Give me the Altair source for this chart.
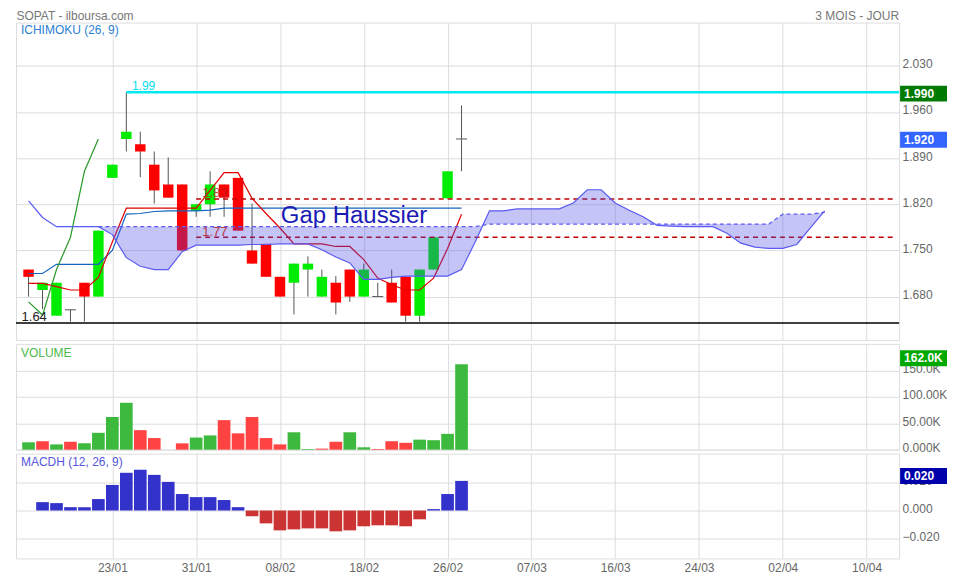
import altair as alt
import pandas as pd

# ---------------- data ----------------
idx = list(range(32))
opens = [1.721, 1.690, 1.651, 1.660, 1.701, 1.680, 1.860, 1.919, 1.911, 1.880,
         1.850, 1.850, 1.810, 1.820, 1.850, 1.860, 1.750, 1.760, 1.710, 1.701,
         1.721, 1.680, 1.701, 1.721, 1.680, 1.680, 1.701, 1.710, 1.651, 1.721,
         1.829, 1.919]
highs = [1.721, 1.701, 1.701, 1.660, 1.701, 1.780, 1.880, 1.990, 1.930, 1.900,
         1.891, 1.850, 1.820, 1.870, 1.850, 1.860, 1.821, 1.760, 1.710, 1.730,
         1.741, 1.721, 1.711, 1.721, 1.730, 1.701, 1.721, 1.710, 1.721, 1.770,
         1.870, 1.970]
lows = [1.680, 1.661, 1.651, 1.642, 1.642, 1.680, 1.860, 1.900, 1.861, 1.821,
        1.830, 1.750, 1.801, 1.801, 1.801, 1.780, 1.730, 1.710, 1.680, 1.653,
        1.680, 1.680, 1.653, 1.672, 1.680, 1.680, 1.671, 1.642, 1.642, 1.721,
        1.829, 1.870]
closes = [1.710, 1.701, 1.701, 1.660, 1.680, 1.780, 1.880, 1.930, 1.900, 1.841,
          1.830, 1.750, 1.820, 1.850, 1.830, 1.780, 1.730, 1.710, 1.680, 1.730,
          1.730, 1.710, 1.671, 1.680, 1.721, 1.680, 1.671, 1.651, 1.721, 1.770,
          1.870, 1.919]
tenkan = [1.700, 1.700, 1.695, 1.690, 1.690, 1.709, 1.763, 1.814, 1.814, 1.814,
          1.814, 1.814, 1.814, 1.841, 1.868, 1.868, 1.829, 1.806, 1.784, 1.760,
          1.760, 1.760, 1.756, 1.756, 1.736, 1.708, 1.698, 1.690, 1.690, 1.708,
          1.753, 1.805]
kijun = [1.715, 1.715, 1.729, 1.729, 1.729, 1.729, 1.750, 1.805, 1.806, 1.809,
         1.810, 1.810, 1.810, 1.811, 1.814, 1.814, 1.814, 1.814, 1.814, 1.814,
         1.814, 1.814, 1.814, 1.814, 1.814, 1.814, 1.814, 1.814, 1.814, 1.814,
         1.814, 1.814]
chikou = [1.672, 1.652, 1.721, 1.770, 1.870, 1.919]          # index 0..5
senkou_a = [1.825, 1.800, 1.786, 1.786, 1.786, 1.786, 1.774, 1.739, 1.726, 1.721,
            1.721, 1.748, 1.758, 1.758, 1.758, 1.758, 1.759, 1.759, 1.760, 1.760,
            1.760, 1.751, 1.740, 1.731, 1.706, 1.706, 1.709, 1.711, 1.711, 1.711,
            1.711, 1.721, 1.764, 1.810, 1.810, 1.813, 1.813, 1.813, 1.813, 1.822,
            1.842, 1.842, 1.822, 1.811, 1.801, 1.788, 1.787, 1.786, 1.786, 1.786,
            1.776, 1.761, 1.755, 1.753, 1.753, 1.759, 1.785, 1.810]   # index 0..57
senkou_b = [1.786] * 28 + [1.790] * 21 + [1.805, 1.805, 1.805, 1.808]  # index 5..57
volume_k = [14, 16, 10, 15, 12, 32, 62, 89, 37, 22, 0, 12, 23, 27, 56, 31, 62, 22,
            10, 33, 1.3, 2, 15, 33, 4.5, 1.3, 16, 13, 19, 18, 30, 162]
volume_up = [1, 0, 1, 0, 1, 1, 1, 1, 0, 0, 0, 0, 1, 1, 0, 0, 0, 0, 0, 1, 1, 0, 0, 1,
             1, 0, 0, 0, 1, 1, 1, 1]
macdh = [0.0060, 0.0053, 0.0024, 0.0024, 0.0082, 0.0183, 0.0270, 0.0292, 0.0255,
         0.0205, 0.0118, 0.0096, 0.0096, 0.0075, 0.0024, -0.0041, -0.0092, -0.0142,
         -0.0135, -0.0128, -0.0128, -0.0149, -0.0142, -0.0113, -0.0106, -0.0106,
         -0.0113, -0.0063, 0.0010, 0.0118, 0.0212]                  # index 1..31
x_ticks = [6, 12, 18, 24, 30, 36, 42, 48, 54, 60]
x_labels = ["23/01", "31/01", "08/02", "18/02", "26/02", "07/03", "16/03", "24/03",
            "02/04", "10/04"]
price_ticks = [1.68, 1.75, 1.82, 1.89, 1.96, 2.03]
vol_ticks = [0, 50000, 100000, 150000]
vol_labels = ["0.000K", "50.00K", "100.00K", "150.0K"]
macd_ticks = [-0.02, 0.0, 0.02]
resistance = 1.99
support = 1.64
gap_levels = [1.828, 1.770]
gap_labels = ["1.83", "1.77"]
last_price_tags = [1.99, 1.92]
last_price_text = ["1.990", "1.920"]
last_volume = 162000
last_volume_text = "162.0K"
last_macdh = 0.0212
last_macdh_text = "0.020"

# ---------------- styling ----------------
FONT = "Liberation Sans"
W = 885
H_MAIN, H_VOL, H_MACD = 318, 106, 105
PX_X = 13.997                                           # pixels per trading day
PX_PRICE, PX_VOL, PX_MACD = 660.9, 0.000528, 1400.0   # pixels per unit
XDOM = [-0.9, -0.9 + W / PX_X]
GRID = "#DDDDDD"
LBL = "#666666"
GREEN, RED = "#00EC00", "#FF0000"
TAG_SHAPE = "M-1,-0.34L1,-0.34L1,0.34L-1,0.34Z"
TAG_X, TAG_TX = W + 24.5, W + 5

xscale = alt.Scale(domain=XDOM, nice=False, zero=False, padding=0)
lab_expr = "[" + ",".join("'%s'" % s for s in x_labels) + "][round(datum.value/6)-1]"


def xaxis(show):
    return alt.Axis(values=x_ticks, grid=True, gridColor=GRID, ticks=False, domain=False,
                    labels=show, labelExpr=lab_expr, labelColor=LBL, labelFontSize=12,
                    labelFont=FONT, labelPadding=4, labelFlush=False, title=None)


def X(field, show=False):
    return alt.X(field, type="quantitative", scale=xscale, axis=xaxis(show))


def yaxis(values, fmt=None, expr=None):
    kw = dict(orient="right", values=values, grid=True, gridColor=GRID, ticks=False,
              domain=False, labelColor=LBL, labelFontSize=12, labelFont=FONT,
              labelPadding=3, labelOffset=-2, title=None)
    if fmt:
        kw["format"] = fmt
    if expr:
        kw["labelExpr"] = expr
    return alt.Axis(**kw)


def ident(field):
    return alt.Color(field, type="nominal", scale=None)


P_TOP = 2.0955
yscale_main = alt.Scale(domain=[P_TOP - H_MAIN / PX_PRICE, P_TOP], nice=False, zero=False,
                        padding=0)
yax_main = yaxis(price_ticks, fmt=".3f")


def YM(field):
    return alt.Y(field, type="quantitative", scale=yscale_main, axis=yax_main)


# ---------------- main (Ichimoku) panel ----------------
cdf = pd.DataFrame({"i": idx, "o": opens, "h": highs, "l": lows, "c": closes})
cdf["col"] = [GREEN if c > o else (RED if c < o else "flat") for o, c in zip(opens, closes)]
bodies_df = cdf[cdf["col"] != "flat"]
flat_df = cdf[cdf["col"] == "flat"]

wicks = alt.Chart(cdf).mark_rule(color="#555555", strokeWidth=1).encode(
    x=X("i"), y=YM("l"), y2="h")
bodies = alt.Chart(bodies_df).mark_bar(width=10.5).encode(
    x=X("i"), y=YM("o"), y2="c", color=ident("col"))
dojis = alt.Chart(flat_df).mark_rule(color="#555555", strokeWidth=1, xOffset=-5.5,
                                     x2Offset=5.5).encode(x=X("i"), x2="i", y=YM("o"))

ldf = pd.DataFrame({"i": idx, "tenkan": tenkan, "kijun": kijun})
kij_line = alt.Chart(ldf).mark_line(color="#1565C0", strokeWidth=1.2).encode(
    x=X("i"), y=YM("kijun"))
ten_line = alt.Chart(ldf).mark_line(color="#E00000", strokeWidth=1.2).encode(
    x=X("i"), y=YM("tenkan"))
chk_line = alt.Chart(pd.DataFrame({"i": list(range(len(chikou))), "v": chikou})).mark_line(
    color="#2A9A2A", strokeWidth=1.2).encode(x=X("i"), y=YM("v"))

res_line = alt.Chart(pd.DataFrame({"a": [7], "b": [XDOM[1]], "y": [resistance]})).mark_rule(
    color="#00E8F0", strokeWidth=2.5).encode(x=X("a"), x2="b", y=YM("y"))
sup_line = alt.Chart(pd.DataFrame({"a": [XDOM[0]], "b": [XDOM[1]], "y": [support]})).mark_rule(
    color="#000000", strokeWidth=1.5).encode(x=X("a"), x2="b", y=YM("y"))
gap_df = pd.DataFrame({"a": [12, 12], "b": [XDOM[1] - 0.3] * 2, "y": gap_levels,
                       "t": gap_labels, "tx": [12.43, 12.43]})
gap_lines = alt.Chart(gap_df).mark_rule(color="#C00000", strokeWidth=1.3,
                                        strokeDash=[5, 4]).encode(x=X("a"), x2="b", y=YM("y"))

sa_df = pd.DataFrame({"i": list(range(len(senkou_a))), "sa": senkou_a})
sb_df = pd.DataFrame({"i": list(range(5, 5 + len(senkou_b))), "sb": senkou_b})
cloud_df = sa_df.merge(sb_df, on="i")
cloud = alt.Chart(cloud_df).mark_area(color="#4848E6", opacity=0.32).encode(
    x=X("i"), y=YM("sa"), y2="sb")
sa_line = alt.Chart(sa_df).mark_line(color="#5A5AF2", strokeWidth=1.2).encode(
    x=X("i"), y=YM("sa"))
sb_line = alt.Chart(sb_df).mark_line(color="#5A5AF2", strokeWidth=1.2,
                                     strokeDash=[4, 3]).encode(x=X("i"), y=YM("sb"))

gap_text = alt.Chart(gap_df).mark_text(align="left", baseline="alphabetic", dy=-1.5,
                                       fontSize=13, font=FONT, color="#B82020",
                                       opacity=0.85).encode(
    x=X("tx"), y=YM("y"), text="t:N")
res_text = alt.Chart(pd.DataFrame({"x": [7.4], "y": [resistance], "t": ["1.99"]})).mark_text(
    align="left", baseline="alphabetic", dy=-2, fontSize=12, font=FONT,
    color="#00E0EE").encode(x=X("x"), y=YM("y"), text="t:N")
sup_text = alt.Chart(pd.DataFrame({"x": [-0.5], "y": [support], "t": ["1.64"]})).mark_text(
    align="left", baseline="alphabetic", dy=-1.5, fontSize=13, font=FONT,
    color="#222222").encode(x=X("x"), y=YM("y"), text="t:N")
gap_title = alt.Chart(pd.DataFrame({"x": [23.3], "y": [1.792], "t": ["Gap Haussier"]})).mark_text(
    align="center", baseline="alphabetic", fontSize=24, font=FONT,
    color="#1A1AB4").encode(x=X("x"), y=YM("y"), text="t:N")

tag_df = pd.DataFrame({"y": last_price_tags, "t": last_price_text,
                       "col": ["#007A00", "#3366FF"]})
tags_box = alt.Chart(tag_df).mark_point(shape=TAG_SHAPE, size=2209, filled=True, opacity=1,
                                        strokeWidth=0, yOffset=1.5).encode(
    x=alt.value(TAG_X), y=YM("y"), color=ident("col"))
tags_txt = alt.Chart(tag_df).mark_text(align="left", baseline="middle", yOffset=1.5,
                                       fontSize=12, fontWeight="bold", font=FONT,
                                       color="white").encode(
    x=alt.value(TAG_TX), y=YM("y"), text="t:N")

hdr_left = alt.Chart(pd.DataFrame({"t": ["SOPAT - ilboursa.com"]})).mark_text(
    align="left", baseline="middle", fontSize=12, font=FONT, color="#777777").encode(
    x=alt.value(0.5), y=alt.value(-7), text="t:N")
hdr_right = alt.Chart(pd.DataFrame({"t": ["3 MOIS - JOUR"]})).mark_text(
    align="right", baseline="middle", fontSize=12, font=FONT, color="#777777").encode(
    x=alt.value(W), y=alt.value(-7), text="t:N")
main_title = alt.Chart(pd.DataFrame({"t": ["ICHIMOKU (26, 9)"]})).mark_text(
    align="left", baseline="middle", fontSize=12, font=FONT, color="#2A7FD4").encode(
    x=alt.value(5), y=alt.value(7), text="t:N")

main = alt.layer(
    wicks, bodies, dojis, kij_line, ten_line, chk_line, res_line, sup_line, gap_lines,
    cloud, sa_line, sb_line, gap_text, res_text, sup_text, gap_title, tags_box, tags_txt,
    hdr_left, hdr_right, main_title
).properties(width=W, height=H_MAIN)

# ---------------- volume panel ----------------
yscale_vol = alt.Scale(domain=[0, H_VOL / PX_VOL], nice=False, zero=True, padding=0)
vol_expr = "[" + ",".join("'%s'" % s for s in vol_labels) + "][round(datum.value/50000)]"
yax_vol = yaxis(vol_ticks, expr=vol_expr)


def YV(field):
    return alt.Y(field, type="quantitative", scale=yscale_vol, axis=yax_vol)


vdf = pd.DataFrame({"i": idx, "v": [k * 1000 for k in volume_k],
                    "col": ["#3DBA3D" if u else "#FF4343" for u in volume_up]})
vdf = vdf[vdf["v"] > 0]
vol_bars = alt.Chart(vdf).mark_bar(width=12.7).encode(
    x=X("i"), y=YV("v"), color=ident("col"))
vtag = pd.DataFrame({"y": [last_volume], "t": [last_volume_text]})
vol_tag_box = alt.Chart(vtag).mark_point(shape=TAG_SHAPE, size=2209, filled=True, opacity=1,
                                         strokeWidth=0, yOffset=-6, color="#00A800").encode(
    x=alt.value(TAG_X), y=YV("y"))
vol_tag_txt = alt.Chart(vtag).mark_text(align="left", baseline="middle", yOffset=-6,
                                        fontSize=12, fontWeight="bold", font=FONT,
                                        color="white").encode(
    x=alt.value(TAG_TX), y=YV("y"), text="t:N")
vol_title = alt.Chart(pd.DataFrame({"t": ["VOLUME"]})).mark_text(
    align="left", baseline="middle", fontSize=12, font=FONT, color="#4CBB4C").encode(
    x=alt.value(5), y=alt.value(9), text="t:N")
vol = alt.layer(vol_bars, vol_tag_box, vol_tag_txt, vol_title).properties(width=W, height=H_VOL)

# ---------------- MACDH panel ----------------
M_TOP = 0.0407
yscale_macd = alt.Scale(domain=[M_TOP - H_MACD / PX_MACD, M_TOP], nice=False, zero=False,
                        padding=0)
yax_macd = yaxis(macd_ticks, fmt=".3f")


def YH(field):
    return alt.Y(field, type="quantitative", scale=yscale_macd, axis=yax_macd)


mdf = pd.DataFrame({"i": list(range(1, 1 + len(macdh))), "v": macdh})
mdf["col"] = ["#3333CC" if v >= 0 else "#CC3333" for v in macdh]
macd_bars = alt.Chart(mdf).mark_bar(width=12.7).encode(
    x=X("i", True), y=YH("v"), color=ident("col"))
mtag = pd.DataFrame({"y": [last_macdh], "t": [last_macdh_text]})
macd_tag_box = alt.Chart(mtag).mark_point(shape=TAG_SHAPE, size=2209, filled=True, opacity=1,
                                          strokeWidth=0, yOffset=-5, color="#0000AA").encode(
    x=alt.value(TAG_X), y=YH("y"))
macd_tag_txt = alt.Chart(mtag).mark_text(align="left", baseline="middle", yOffset=-5,
                                         fontSize=12, fontWeight="bold", font=FONT,
                                         color="white").encode(
    x=alt.value(TAG_TX), y=YH("y"), text="t:N")
macd_title = alt.Chart(pd.DataFrame({"t": ["MACDH (12, 26, 9)"]})).mark_text(
    align="left", baseline="middle", fontSize=12, font=FONT, color="#5555DD").encode(
    x=alt.value(5), y=alt.value(8), text="t:N")
macd = alt.layer(macd_bars, macd_tag_box, macd_tag_txt, macd_title).properties(
    width=W, height=H_MACD)

chart = alt.vconcat(main, vol, macd, spacing=4, bounds="flush").properties(
    padding={"left": 6, "top": 0, "right": 0, "bottom": 0},
    background="white",
).configure_view(stroke=GRID, strokeWidth=1).configure_axis(gridWidth=1)

chart.save("out.html", embed_options={"renderer": "svg", "actions": False})
